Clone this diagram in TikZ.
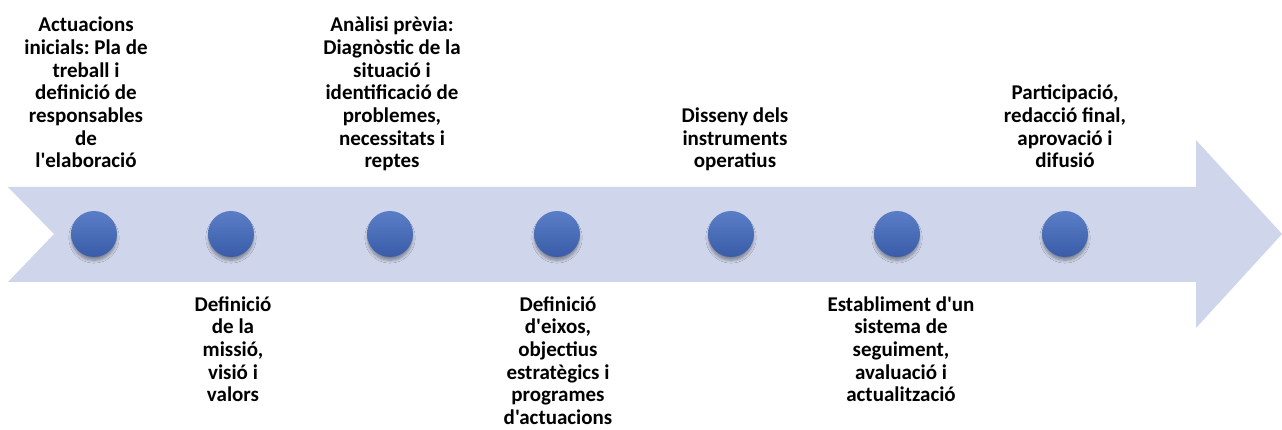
\documentclass[tikz,border=0pt]{standalone}
\usepackage{fontspec}
\setmainfont{Carlito}[Ligatures=TeXOff]
\usetikzlibrary{shadows.blur}
\definecolor{arrowfill}{HTML}{CFD5EA}
\definecolor{dottop}{HTML}{5A7EC6}
\definecolor{dotbot}{HTML}{3A5CA9}
\frenchspacing
\begin{document}
\begin{tikzpicture}[x=1pt,y=-1pt,
  dot/.style={circle,minimum size=46pt,inner sep=0pt,top color=dottop,bottom color=dotbot,
    blur shadow={shadow xshift=0pt,shadow yshift=-4pt,shadow scale=0.97,shadow blur steps=8,shadow opacity=40,shadow blur radius=3pt}},
  lbl/.style={align=center,font=\bfseries\fontsize{21}{22.7}\selectfont,inner sep=0pt,anchor=base}]
\useasboundingbox (0,0) rectangle (1282,430);
\fill[arrowfill] (8,187) -- (1196,187) -- (1196,140) -- (1282,234) -- (1196,328) -- (1196,282) -- (8,282) -- (54,234) -- cycle;
\foreach \x [count=\i] in {94,231,390,557,731,897,1065}
  \node[dot] (c\i) at (\x,234) {};
\node[lbl] (t1) at (86,168) {Actuacions\\inicials: Pla de\\treball i\\definició de\\responsables\\de\\l'elaboració};
\node[lbl] (t2) at (233,401.8) {Definició\\de la\\missió,\\visió i\\valors};
\node[lbl] (t3) at (392,168) {Anàlisi prèvia:\\Diagnòstic de la\\situació i\\identificació de\\problemes,\\necessitats i\\reptes};
\node[lbl] (t4) at (558,424.5) {Definició\\d'eixos,\\objectius\\estratègics i\\programes\\d'actuacions};
\node[lbl] (t5) at (735,168) {Disseny dels\\instruments\\operatius};
\node[lbl] (t6) at (901,401.8) {Establiment d'un\\sistema de\\seguiment,\\avaluació i\\actualització};
\node[lbl] (t7) at (1065,168) {Participació,\\redacció final,\\aprovació i\\difusió};
\end{tikzpicture}
\end{document}
